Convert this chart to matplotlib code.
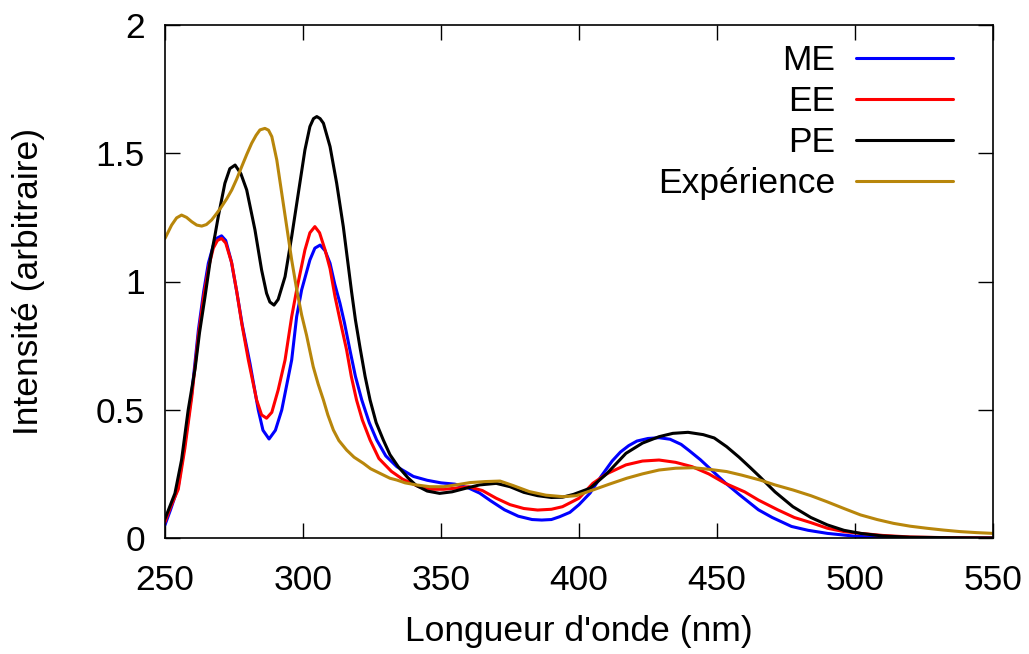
import matplotlib.pyplot as plt
from matplotlib.ticker import FuncFormatter

plt.rcParams['font.family'] = ['Liberation Sans', 'DejaVu Sans']

# ME
me_x = [250, 252, 254.8, 257.2, 259.7, 262.1, 264, 265.7, 267.5, 269, 270.5, 272, 274, 276, 278, 280.8,
        283.8, 285.5, 287.7, 290, 292.3, 295.9, 297.7, 299.5, 302.5, 304.3, 306.2, 308, 309.8, 311.5,
        313.4, 315, 317, 319, 321.3, 324, 326.7, 330, 334, 340, 345, 350, 355, 360, 364, 368, 373, 378,
        383, 386.5, 390, 393, 396.7, 400, 404, 408, 412, 415, 418, 421, 425, 429, 433, 437, 440, 444,
        448, 453, 458, 465, 470, 477, 483, 490, 500, 510, 530, 550]
me_y = [0.051, 0.11, 0.2, 0.369, 0.564, 0.811, 0.96, 1.071, 1.14, 1.17, 1.178, 1.16, 1.08, 0.96, 0.83,
        0.68, 0.499, 0.42, 0.386, 0.42, 0.499, 0.694, 0.863, 0.967, 1.084, 1.13, 1.142, 1.12, 1.071, 0.99,
        0.915, 0.84, 0.733, 0.63, 0.538, 0.45, 0.382, 0.32, 0.278, 0.24, 0.225, 0.215, 0.21, 0.195, 0.175,
        0.145, 0.11, 0.085, 0.072, 0.07, 0.072, 0.083, 0.10, 0.13, 0.175, 0.24, 0.30, 0.335, 0.36, 0.378,
        0.388, 0.391, 0.385, 0.365, 0.34, 0.305, 0.265, 0.215, 0.17, 0.11, 0.08, 0.045, 0.03, 0.018, 0.007,
        0.002, 0.0, 0.0]

# EE
ee_x = [250, 252, 254.8, 257.2, 259.7, 262.1, 264, 265.9, 267.5, 269, 270.5, 272, 274.2, 276, 277.8,
        280.2, 283.2, 285, 286.8, 288.7, 291, 293.5, 295.9, 297.7, 300.7, 302.5, 304.3, 306, 308, 309.8,
        311.6, 313.4, 315.8, 317.5, 319.4, 321.5, 324.3, 327.5, 332, 336, 342, 346, 351, 356, 360, 365,
        370, 375, 380, 385, 390, 394, 400, 405, 410, 417, 423, 429, 435, 441, 447, 453, 460, 465, 472, 478,
        484, 490, 496, 502, 510, 520, 535, 550]
ee_y = [0.062, 0.12, 0.19, 0.35, 0.55, 0.79, 0.94, 1.06, 1.13, 1.16, 1.168, 1.15, 1.071, 0.96, 0.837,
        0.694, 0.538, 0.48, 0.467, 0.49, 0.577, 0.694, 0.863, 0.967, 1.123, 1.19, 1.214, 1.19, 1.123,
        1.05, 0.941, 0.85, 0.733, 0.63, 0.538, 0.46, 0.382, 0.31, 0.26, 0.23, 0.20, 0.19, 0.19, 0.195,
        0.20, 0.185, 0.155, 0.13, 0.115, 0.109, 0.112, 0.122, 0.155, 0.213, 0.25, 0.285, 0.30, 0.304,
        0.295, 0.278, 0.25, 0.213, 0.18, 0.148, 0.11, 0.08, 0.06, 0.038, 0.025, 0.018, 0.01, 0.004, 0.001,
        0.0]

# PE
pe_x = [250, 252, 253.6, 256, 258.4, 260.9, 262.5, 264.5, 266.5, 268.1, 269.3, 271.7, 273.5, 275.4,
        277.5, 279.6, 282.6, 285, 286.8, 288, 289.5, 291, 293.5, 295.9, 298.3, 300.7, 302.5, 303.8, 305,
        306.2, 307.4, 309.8, 312.2, 314.6, 317.6, 319, 320.7, 322.5, 324.3, 326.5, 329.1, 331.5, 334.5,
        338, 341, 345, 349.5, 354, 359, 364, 370, 375, 380, 385, 390, 394, 398, 404, 410, 417, 423, 429,
        434, 439.5, 445, 449, 453.5, 458, 462, 465.5, 471, 477.5, 484, 490, 496, 502, 510, 520, 535, 550]
pe_y = [0.075, 0.13, 0.174, 0.304, 0.499, 0.66, 0.80, 0.941, 1.09, 1.18, 1.253, 1.383, 1.44, 1.454,
        1.42, 1.357, 1.201, 1.045, 0.954, 0.92, 0.908, 0.93, 1.019, 1.175, 1.344, 1.513, 1.604, 1.635,
        1.643, 1.635, 1.617, 1.526, 1.383, 1.214, 0.96, 0.85, 0.74, 0.63, 0.538, 0.45, 0.382, 0.325,
        0.278, 0.235, 0.205, 0.183, 0.174, 0.18, 0.194, 0.207, 0.213, 0.20, 0.178, 0.165, 0.158, 0.159,
        0.17, 0.194, 0.25, 0.33, 0.37, 0.395, 0.408, 0.412, 0.403, 0.39, 0.356, 0.315, 0.275, 0.239, 0.18,
        0.122, 0.08, 0.051, 0.03, 0.018, 0.008, 0.003, 0.001, 0.0]

# Expérience
exp_x = [250, 252.4, 254.2, 256, 257.8, 259.7, 261.5, 263.3, 265, 266.9, 268.7, 270.5, 272.4, 274.2,
         276, 277.8, 279.6, 281.4, 283, 284.4, 286.2, 287.5, 288.7, 290.5, 292.3, 294.1, 295.9, 297.7,
         299.5, 301.3, 303.7, 305.5, 307.4, 309, 311, 313, 315.8, 318.5, 321.9, 324.5, 327.9, 331.5, 334,
         337, 341, 346, 351, 356, 360.5, 366, 371.4, 376, 382, 388, 394.3, 399, 405, 411, 417.3, 423, 429,
         435, 441.4, 447, 453.5, 459, 465.6, 471, 477.6, 484, 489.7, 496, 502, 508, 514, 520, 526, 532,
         538, 544, 550]
exp_y = [1.168, 1.22, 1.248, 1.259, 1.25, 1.233, 1.22, 1.216, 1.222, 1.24, 1.265, 1.292, 1.323, 1.357,
         1.40, 1.448, 1.495, 1.539, 1.57, 1.591, 1.597, 1.59, 1.565, 1.474, 1.344, 1.214, 1.084, 0.97,
         0.87, 0.79, 0.668, 0.60, 0.538, 0.48, 0.421, 0.38, 0.343, 0.315, 0.291, 0.27, 0.252, 0.233,
         0.226, 0.215, 0.207, 0.20, 0.20, 0.208, 0.216, 0.22, 0.222, 0.205, 0.181, 0.167, 0.161, 0.165,
         0.187, 0.21, 0.233, 0.25, 0.265, 0.272, 0.274, 0.268, 0.259, 0.245, 0.226, 0.207, 0.187, 0.165,
         0.142, 0.115, 0.09, 0.072, 0.057, 0.046, 0.038, 0.031, 0.025, 0.021, 0.018]

fs = 25.5

fig = plt.figure(figsize=(10.29, 6.54), dpi=100)
ax = fig.add_axes([165 / 1029, 116 / 654, 828 / 1029, 513 / 654])

style = dict(lw=2.2, solid_joinstyle='round', solid_capstyle='round')
ax.plot(me_x, me_y, color='#0000ff', label='ME', **style)
ax.plot(ee_x, ee_y, color='#ff0000', label='EE', **style)
ax.plot(pe_x, pe_y, color='#000000', label='PE', **style)
ax.plot(exp_x, exp_y, color='#b8860b', label='Expérience', **style)

ax.set_xlim(250, 550)
ax.set_ylim(0, 2)
ax.set_xticks([250, 300, 350, 400, 450, 500, 550])
ax.set_yticks([0, 0.5, 1, 1.5, 2])
ax.yaxis.set_major_formatter(FuncFormatter(lambda v, p: f'{v:g}'))
ax.tick_params(direction='in', length=11, width=1, top=True, right=True, labelsize=fs)
ax.tick_params(axis='y', pad=14.4)
ax.tick_params(axis='x', pad=19)
for s in ax.spines.values():
    s.set_linewidth(1.2)

ax.set_xlabel("Longueur d'onde (nm)", fontsize=fs)
ax.set_ylabel("Intensité (arbitraire)", fontsize=fs)
ax.xaxis.set_label_coords(0.5, -0.150)
ax.yaxis.set_label_coords(-0.145, 0.5)

ax.legend(loc='upper right', bbox_to_anchor=(0.952, 0.963), frameon=False, markerfirst=False,
          fontsize=fs, handlelength=2.74, handletextpad=0.59, labelspacing=0.23, borderaxespad=0,
          borderpad=0)

plt.savefig('out.png', dpi=100)
